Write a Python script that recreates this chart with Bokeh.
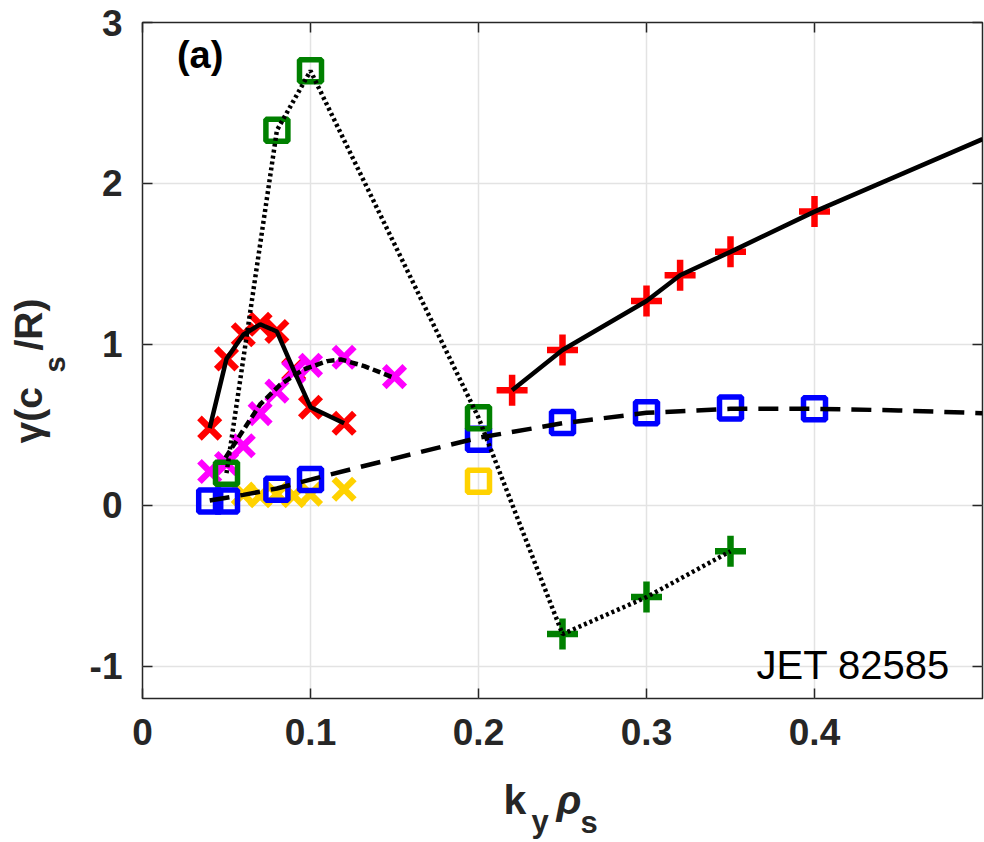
from math import pi
from bokeh.plotting import figure
from bokeh.models import Range1d, LinearAxis, Label, FixedTicker
from bokeh.layouts import row, column
from bokeh.embed import file_html
from bokeh.resources import INLINE

# ---------------- data ----------------
# red crosses (x) with solid polyline
red_x_k = [0.04, 0.05, 0.06, 0.07, 0.08, 0.09, 0.10, 0.12]
red_x_g = [0.48, 0.91, 1.06, 1.125, 1.08, 0.84, 0.61, 0.51]

# magenta crosses (x) and fitted curve
mag_k = [0.04, 0.05, 0.06, 0.07, 0.08, 0.09, 0.10, 0.12, 0.15]
mag_g = [0.21, 0.26, 0.37, 0.57, 0.71, 0.83, 0.87, 0.92, 0.80]
mag_fit_k = [0.0494, 0.0583, 0.070, 0.082, 0.096, 0.110, 0.118, 0.132, 0.149]
mag_fit_g = [0.296, 0.44, 0.627, 0.75, 0.845, 0.896, 0.907, 0.865, 0.795]

# yellow crosses and yellow square
yel_k = [0.06, 0.07, 0.08, 0.09, 0.10, 0.12]
yel_g = [0.07, 0.06, 0.07, 0.06, 0.07, 0.10]
yel_sq_k = [0.20]
yel_sq_g = [0.15]

# blue squares and dashed fit
blue_k = [0.04, 0.05, 0.08, 0.10, 0.20, 0.25, 0.30, 0.35, 0.40]
blue_g = [0.027, 0.027, 0.10, 0.16, 0.41, 0.515, 0.575, 0.605, 0.60]
blue_fit_k = [0.04, 0.06, 0.08, 0.10, 0.13, 0.165, 0.20, 0.25, 0.30, 0.35, 0.40, 0.45, 0.50]
blue_fit_g = [0.03, 0.065, 0.105, 0.16, 0.24, 0.33, 0.42, 0.51, 0.575, 0.60, 0.60, 0.59, 0.573]

# green squares + green plus, dotted line through all
green_sq_k = [0.05, 0.08, 0.10, 0.20]
green_sq_g = [0.20, 2.33, 2.70, 0.545]
green_pl_k = [0.25, 0.30, 0.35]
green_pl_g = [-0.80, -0.57, -0.285]
green_line_k = green_sq_k + green_pl_k
green_line_g = green_sq_g + green_pl_g

# red plus with solid curve
red_p_k = [0.22, 0.25, 0.30, 0.32, 0.35, 0.40]
red_p_g = [0.715, 0.965, 1.27, 1.43, 1.575, 1.825]
red_fit_k = [0.22, 0.25, 0.30, 0.32, 0.35, 0.40, 0.45, 0.50]
red_fit_g = [0.715, 0.965, 1.27, 1.43, 1.575, 1.825, 2.05, 2.275]

x_ticks = [0, 0.1, 0.2, 0.3, 0.4]
x_tick_labels = ["0", "0.1", "0.2", "0.3", "0.4"]
y_ticks = [-1, 0, 1, 2, 3]
y_tick_labels = ["-1", "0", "1", "2", "3"]

# ---------------- figure ----------------
FONT = "Liberation Sans"
AX = "#262626"

p = figure(width=904, height=776, x_range=Range1d(0, 0.5), y_range=Range1d(-1.2, 3),
           output_backend="svg", toolbar_location=None,
           min_border_left=62, min_border_right=2, min_border_top=22, min_border_bottom=78)
p.background_fill_color = "white"
p.border_fill_color = "white"
p.outline_line_color = AX
p.outline_line_width = 1.5
p.outline_line_alpha = 1.0

for ax, ticks, labels in [(p.xaxis[0], x_ticks, x_tick_labels), (p.yaxis[0], y_ticks, y_tick_labels)]:
    ax.ticker = FixedTicker(ticks=ticks)
    ax.major_label_overrides = {t: l for t, l in zip(ticks, labels)}
    ax.axis_line_color = None
    ax.major_tick_in = 10
    ax.major_tick_out = 0
    ax.major_tick_line_color = AX
    ax.major_tick_line_width = 1.5
    ax.minor_tick_line_color = None
    ax.major_label_text_font = FONT
    ax.major_label_text_font_style = "bold"
    ax.major_label_text_font_size = "37px"
    ax.major_label_text_color = AX
    ax.major_label_standoff = 20

for loc, ticks in [("right", y_ticks), ("above", x_ticks)]:
    a = LinearAxis(ticker=FixedTicker(ticks=ticks), axis_line_color=None,
                   major_tick_in=10, major_tick_out=0, major_tick_line_color=AX,
                   major_tick_line_width=1.5, minor_tick_line_color=None,
                   major_label_overrides={t: "" for t in ticks},
                   major_label_text_font_size="8px", major_label_standoff=0)
    p.add_layout(a, loc)

p.xgrid.ticker = FixedTicker(ticks=x_ticks)
p.ygrid.ticker = FixedTicker(ticks=y_ticks)
for g in (p.xgrid[0], p.ygrid[0]):
    g.grid_line_color = "#e3e3e3"
    g.grid_line_width = 1.5

# ---------------- markers ----------------
p.scatter(red_x_k, red_x_g, marker="x", size=29, line_color="#ff0000", line_width=6.5)
p.scatter(mag_k, mag_g, marker="x", size=29, line_color="#ff00ff", line_width=6.5)
p.scatter(yel_k, yel_g, marker="x", size=29, line_color="#ffd200", line_width=6.5)
p.scatter(blue_k, blue_g, marker="square", size=22, fill_color=None, line_color="#0000ff", line_width=5.5)
p.scatter(yel_sq_k, yel_sq_g, marker="square", size=22, fill_color=None, line_color="#ffd200", line_width=5.5)
p.scatter(red_p_k, red_p_g, marker="cross", size=31, line_color="#ff0000", line_width=6.5)
p.scatter(green_sq_k, green_sq_g, marker="square", size=22, fill_color=None, line_color="#008000", line_width=5.5)
p.scatter(green_pl_k, green_pl_g, marker="cross", size=31, line_color="#008000", line_width=6.5)

# ---------------- lines ----------------
p.line(red_x_k, red_x_g, line_color="black", line_width=4.5)
p.line(mag_fit_k, mag_fit_g, line_color="black", line_width=4.5, line_dash="8 4")
p.line(blue_fit_k, blue_fit_g, line_color="black", line_width=4.5, line_dash="20 11")
p.line(green_line_k, green_line_g, line_color="black", line_width=4.5, line_dash="3 3")
p.line(red_fit_k, red_fit_g, line_color="black", line_width=4.5)

# ---------------- annotations ----------------
p.add_layout(Label(x=0.0205, y=2.795, text="(a)", text_font=FONT, text_font_style="bold",
                   text_font_size="38px", text_color="black", text_align="left", text_baseline="alphabetic"))
p.add_layout(Label(x=0.4807, y=-0.99, text="JET 82585", text_font=FONT,
                   text_font_size="40px", text_color="black", text_align="right", text_baseline="alphabetic"))


def blank(w, h):
    f = figure(width=w, height=h, x_range=Range1d(0, 1), y_range=Range1d(0, 1),
               output_backend="svg", toolbar_location=None, x_axis_location=None,
               y_axis_location=None, min_border=0)
    f.outline_line_color = None
    f.grid.visible = False
    f.background_fill_color = "white"
    f.border_fill_color = "white"
    return f


def slabel(f, x, y, text, size, style="bold", angle=0.0):
    f.add_layout(Label(x=x, y=y, x_units="screen", y_units="screen", text=text, angle=angle,
                       text_font=FONT, text_font_style=style, text_font_size=size,
                       text_color=AX, text_align="left", text_baseline="alphabetic"))


# x label: k_y rho_s (frame of this strip is aligned with the main frame)
xl = blank(904, 66)
slabel(xl, 361, 43, "k", "41px")
slabel(xl, 389, 21, "y", "31px")
slabel(xl, 414, 43, "\u03c1", "41px", style="bold italic")
slabel(xl, 438, 20, "s", "31px")

# y label: gamma(c_s/R)
yl = blank(80, 842)
slabel(yl, 28, 399, "\u03b3(c", "39px", angle=pi / 2)
slabel(yl, 54, 470, "s", "29px", angle=pi / 2)
slabel(yl, 28, 492, "/R)", "39px", angle=pi / 2)

layout = row(yl, column(p, xl))
open("out.html", "w").write(file_html(layout, INLINE))
